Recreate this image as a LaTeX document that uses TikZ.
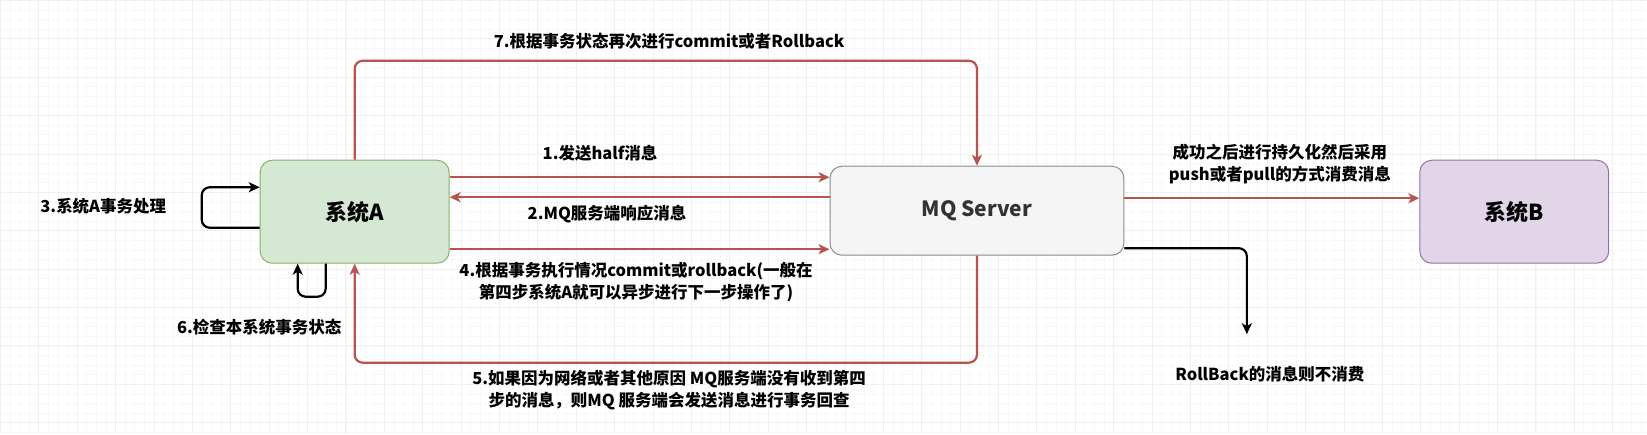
\documentclass[tikz,border=0pt]{standalone}
\usepackage{fontspec}
\setmainfont{Noto Sans CJK SC}
\usepackage{tikz}
\usetikzlibrary{arrows.meta}

\definecolor{agreen}{HTML}{D5E8D4}
\definecolor{agreenline}{HTML}{82B366}
\definecolor{mqgray}{HTML}{F5F5F5}
\definecolor{mqline}{HTML}{8C8C8C}
\definecolor{bpurple}{HTML}{E1D5E7}
\definecolor{bpurpleline}{HTML}{9673A6}
\definecolor{flowred}{HTML}{B85450}

\begin{document}
\begin{tikzpicture}[x=1pt, y=-1pt, >={Stealth[length=11pt,width=10pt,inset=3pt]},
    every node/.style={font=\fontsize{16.5}{21.5}\selectfont\bfseries},
    sysbox/.style={draw, line width=1pt, rounded corners=12pt, minimum width=189pt, minimum height=103pt, font=\fontsize{22}{26}\selectfont\bfseries},
    redflow/.style={draw=flowred, line width=2.2pt, rounded corners=8pt},
    blackflow/.style={draw=black, line width=2.2pt, rounded corners=8pt}]
    % background and grid
    \fill[white] (0,0) rectangle (1647,434);
    \begin{scope}[y=1pt]
        \draw[black!3, line width=0.5pt] (0,-434) grid[step=9.6] (1647,0);
        \draw[black!6, line width=0.6pt] (0,-434) grid[step=38.4] (1647,0);
    \end{scope}
    \useasboundingbox (0,0) rectangle (1647,434);

    % Systems
    \node[sysbox, fill=agreen, draw=agreenline] (sysA) at (354.5,211.5) {系统A};
    \node[sysbox, fill=mqgray, draw=mqline, minimum width=294pt, minimum height=89pt, text=black!80, font=\fontsize{21}{25}\selectfont\bfseries] (mq) at (977,210.5) {MQ Server};
    \node[sysbox, fill=bpurple, draw=bpurpleline] (sysB) at (1514.5,211.5) {系统B};

    % Messages between A and MQ
    \draw[redflow, ->] ([yshift=34.5pt]sysA.east) -- ([yshift=34.5pt]sysA.east -| mq.west);
    \draw[redflow, ->] ([yshift=14.5pt]sysA.east -| mq.west) -- ([yshift=14.5pt]sysA.east);
    \draw[redflow, ->] ([yshift=-37.5pt]sysA.east) -- ([yshift=-37.5pt]sysA.east -| mq.west);
    % Second commit / rollback (top)
    \draw[redflow, ->] (sysA.north) |- ([yshift=105pt]mq.north) -- (mq.north);
    % Check back (bottom)
    \draw[redflow, ->] (mq.south) |- ([yshift=-99pt]sysA.south) -- (sysA.south);

    % Self loops
    \draw[blackflow, ->] ([yshift=-16pt]sysA.west) -| ([xshift=-58pt,yshift=24.5pt]sysA.west) -- ([yshift=24.5pt]sysA.west);
    \draw[blackflow, ->] ([xshift=-29pt]sysA.south) -- ++(0,33) -| ([xshift=-57pt]sysA.south);

    % MQ to B and rollback
    \draw[redflow, ->] ([yshift=12.5pt]mq.east) -- ([yshift=12.5pt]mq.east -| sysB.west);
    \coordinate (rbEnd) at (1247,334);
    \draw[blackflow, ->] ([yshift=-37.5pt]mq.east) -| (rbEnd);

    % Labels
    \node (lblSeven) at (669,41) {7.根据事务状态再次进行commit或者Rollback};
    \node (lblOne) at (600,153) {1.发送half消息};
    \node (lblTwo) at (607,214) {2.MQ服务端响应消息};
    \node[align=center] (lblFour) at (636,282) {4.根据事务执行情况commit或rollback(一般在\\第四步系统A就可以异步进行下一步操作了)};
    \node[align=center] (lblFive) at (669,390) {5.如果因为网络或者其他原因 MQ服务端没有收到第四\\步的消息，则MQ 服务端会发送消息进行事务回查};
    \node (lblThree) at (103,206) {3.系统A事务处理};
    \node (lblSix) at (259,327) {6.检查本系统事务状态};
    \node[align=center] (lblPush) at (1280,164) {成功之后进行持久化然后采用\\push或者pull的方式消费消息};
    \node (lblRollback) at (1270,374) {RollBack的消息则不消费};
\end{tikzpicture}
\end{document}
